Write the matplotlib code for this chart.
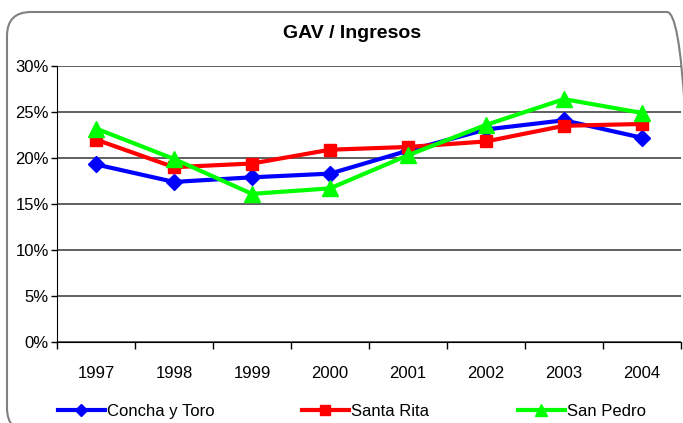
import matplotlib
matplotlib.use("Agg")
import matplotlib.pyplot as plt
from matplotlib.patches import FancyBboxPatch
from matplotlib.transforms import IdentityTransform

years = ["1997", "1998", "1999", "2000", "2001", "2002", "2003", "2004"]
concha = [19.3, 17.4, 17.9, 18.3, 20.8, 23.1, 24.1, 22.2]
santa_rita = [22.0, 19.0, 19.4, 20.9, 21.2, 21.8, 23.5, 23.7]
san_pedro = [23.2, 19.9, 16.1, 16.7, 20.3, 23.6, 26.4, 24.9]
yticks = [0, 5, 10, 15, 20, 25, 30]

plt.rcParams['font.family'] = ["Liberation Sans", "DejaVu Sans"]

fig = plt.figure(figsize=(6.83, 4.23), dpi=100)
W, H = 683, 423
border = FancyBboxPatch((7, -9), 684, 420,
                        boxstyle="round,pad=0,rounding_size=24",
                        transform=IdentityTransform(), facecolor="none",
                        edgecolor="#808080", linewidth=1.5, zorder=-1)
fig.patches.append(border)

ax = fig.add_axes([57 / W, 1 - 342 / H, (681 - 57) / W, (342 - 66) / H])
ax.set_facecolor("none")
x = list(range(len(years)))
l1, = ax.plot(x, concha, color="#0000FF", lw=3, marker="D", ms=8, label="Concha y Toro", zorder=3)
l2, = ax.plot(x, santa_rita, color="#FF0000", lw=3, marker="s", ms=9, label="Santa Rita", zorder=4)
l3, = ax.plot(x, san_pedro, color="#00FF00", lw=3, marker="^", ms=11, label="San Pedro", zorder=5)

ax.set_xlim(-0.5, len(years) - 0.5)
ax.set_ylim(0, 30)
ax.set_yticks(yticks)
ax.set_yticklabels([f"{v}%" for v in yticks], fontsize=12)
ax.set_xticks(x)
ax.set_xticklabels(years, fontsize=12)
ax.set_xticks([i - 0.5 for i in range(len(years) + 1)], minor=True)
ax.tick_params(axis="x", which="major", length=0, pad=17)
ax.tick_params(axis="x", which="minor", length=5, direction="out", width=1)
ax.tick_params(axis="y", length=4, direction="out", width=1, pad=2)
ax.yaxis.grid(True, color="#444444", lw=1.2)
ax.set_axisbelow(True)
for s in ["top", "right"]:
    ax.spines[s].set_visible(False)
ax.spines["left"].set_color("#000000")
ax.spines["bottom"].set_color("#000000")

fig.text(352 / W, 1 - 33 / H, "GAV / Ingresos", ha="center", va="center",
         fontsize=14, fontweight="bold")

for h, xl in [(l1, 58), (l2, 302), (l3, 518)]:
    lg = fig.legend(handles=[h], loc="center left", bbox_to_anchor=(xl / W, 1 - 411 / H),
                    frameon=False, fontsize=12, handlelength=2.8,
                    handletextpad=0.15, markerscale=0.8, borderpad=0, borderaxespad=0)
fig.savefig("out.png", dpi=100)
